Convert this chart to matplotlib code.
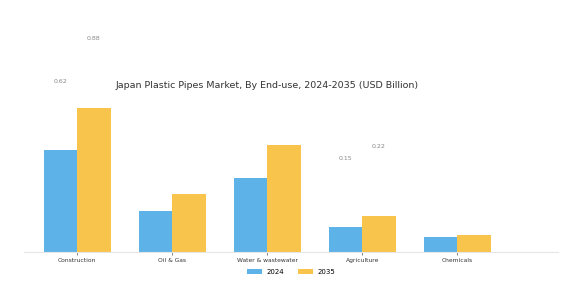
import numpy as np
import matplotlib
matplotlib.use('Agg')
import matplotlib.pyplot as plt

categories = ['Construction', 'Oil & Gas', 'Water & wastewater', 'Agriculture', 'Chemicals']
values_2024 = [0.62, 0.25, 0.45, 0.15, 0.09]
values_2035 = [0.88, 0.35, 0.65, 0.22, 0.10]
# only these bars carry a value label in the original
labelled = ['Construction', 'Agriculture']

blue = '#5DB3E7'
yellow = '#F9C44B'

fig = plt.figure(figsize=(5.69, 3.02), dpi=100)
# axes from x=24..558 px, baseline at y=251.7 px
ax = fig.add_axes([24 / 569, (302 - 251.7) / 302, (558 - 24) / 569, 0.52])

x = np.arange(len(categories))
w = 0.35
ax.bar(x - w / 2, values_2024, w, color=blue, label='2024')
ax.bar(x + w / 2, values_2035, w, color=yellow, label='2035')

for i, cat in enumerate(categories):
    if cat in labelled:
        for xi, v in [(x[i] - w / 2, values_2024[i]), (x[i] + w / 2, values_2035[i])]:
            ax.annotate(f'{v:.2f}', (xi, v), xytext=(0, 49.5), textcoords='offset points',
                        ha='center', va='center', fontsize=4.5, color='#888888',
                        annotation_clip=False)

ax.set_xlim(-0.561, 5.06)
ax.set_ylim(0, 0.96)
ax.set_xticks(x)
ax.set_xticklabels(categories, fontsize=4.3, color='#333333')
ax.tick_params(axis='x', length=2, width=0.5, color='#555555', pad=2.5)
ax.set_yticks([])
for s in ['top', 'right', 'left']:
    ax.spines[s].set_visible(False)
ax.spines['bottom'].set_color('#e6e6e6')
ax.spines['bottom'].set_linewidth(0.8)

fig.text(267.5 / 569, 1 - 85 / 302, 'Japan Plastic Pipes Market, By End-use, 2024-2035 (USD Billion)',
         ha='center', va='center', fontsize=6.8, color='#333333')

fig.legend(loc='center', bbox_to_anchor=(291 / 569, 1 - 272 / 302), ncol=2, frameon=False,
           fontsize=5, handlelength=2.2, handleheight=0.6, columnspacing=2.0, handletextpad=0.6)

fig.savefig('out.png', dpi=100)
